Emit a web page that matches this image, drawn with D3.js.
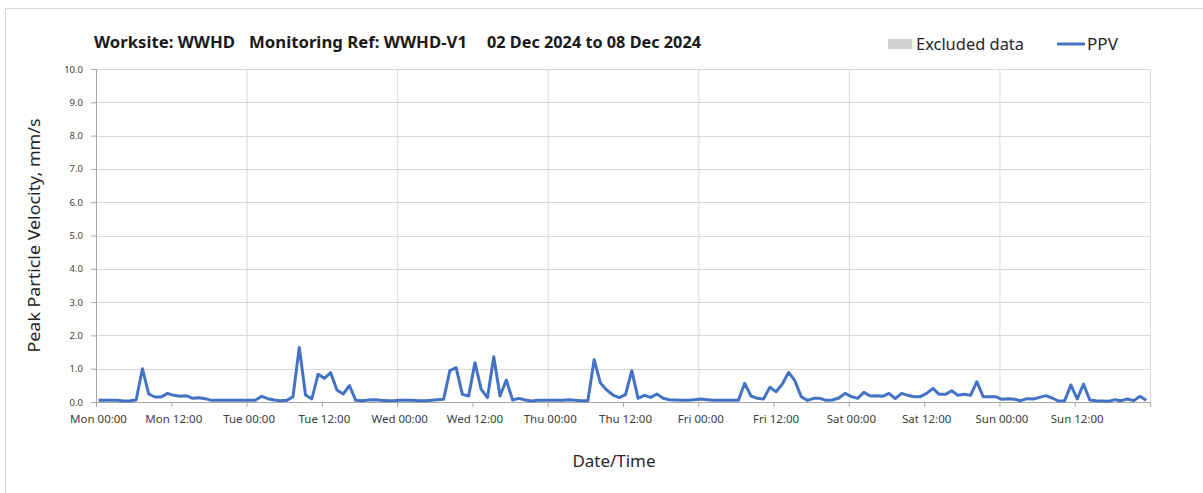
<!DOCTYPE html>
<html>
<head>
<meta charset="utf-8">
<script src="https://cdn.jsdelivr.net/npm/d3@7"></script>
<style>
  body { margin: 0; background: #fff; }
  svg { display: block; font-family: "Noto Sans", sans-serif; }
</style>
</head>
<body>
<svg id="chart" width="1203" height="493"></svg>
<script>
// hourly PPV readings, Mon 02 Dec 2024 to Sun 08 Dec 2024
const startTime = '2024-12-02T00:24:00Z'
const ppv = [
  0.05,0.05,0.05,0.05,0.03,0.04,0.06,1.00,0.24,0.15,0.15,0.26,0.20,0.17,0.19,0.11,0.13,0.10,0.05,0.05,0.05,0.05,0.05,0.05,
  0.05,0.05,0.17,0.10,0.06,0.04,0.05,0.16,1.64,0.21,0.09,0.83,0.71,0.88,0.36,0.24,0.49,0.05,0.04,0.06,0.07,0.05,0.04,0.04,
  0.05,0.05,0.05,0.04,0.04,0.05,0.07,0.08,0.94,1.03,0.23,0.18,1.18,0.38,0.13,1.36,0.18,0.66,0.06,0.11,0.06,0.03,0.05,0.05,
  0.05,0.05,0.05,0.07,0.05,0.04,0.04,1.27,0.57,0.36,0.21,0.13,0.22,0.94,0.11,0.20,0.14,0.24,0.11,0.07,0.06,0.05,0.05,0.07,
  0.09,0.07,0.05,0.05,0.05,0.05,0.05,0.56,0.18,0.11,0.09,0.44,0.31,0.54,0.89,0.64,0.16,0.05,0.11,0.11,0.05,0.06,0.12,0.26,
  0.16,0.11,0.29,0.18,0.19,0.17,0.26,0.10,0.26,0.20,0.16,0.16,0.26,0.41,0.23,0.23,0.34,0.20,0.23,0.20,0.61,0.16,0.16,0.16,
  0.08,0.10,0.08,0.04,0.10,0.09,0.14,0.19,0.12,0.03,0.04,0.51,0.09,0.54,0.06,0.04,0.03,0.02,0.07,0.04,0.09,0.04,0.17,0.05
]
const xTickLabels = ['Mon 00:00','Mon 12:00','Tue 00:00','Tue 12:00','Wed 00:00','Wed 12:00','Thu 00:00',
  'Thu 12:00','Fri 00:00','Fri 12:00','Sat 00:00','Sat 12:00','Sun 00:00','Sun 12:00']
const yTicks = [0,1,2,3,4,5,6,7,8,9,10]
const titleParts = ['Worksite: WWHD', 'Monitoring Ref: WWHD-V1', '02 Dec 2024 to 08 Dec 2024']
const legendItems = ['Excluded data', 'PPV']

const margin = {top: 69, right: 53, bottom: 91, left: 96}
const width = 1203 - margin.left - margin.right
const height = 493 - margin.top - margin.bottom

const svg = d3.select('#chart')

// outer frame
svg.append('rect')
  .attr('x', 5.5).attr('y', 8.5)
  .attr('width', 1210).attr('height', 490)
  .attr('fill', 'none').attr('stroke', '#d9d9d9')

const t0 = new Date('2024-12-02T00:00:00Z')
const t1 = new Date('2024-12-09T00:00:00Z')
const start = new Date(startTime)
const data = ppv.map((v, i) => ({t: d3.utcHour.offset(start, i), v: v}))

const x = d3.scaleUtc().domain([t0, t1]).range([0, width])
const y = d3.scaleLinear().domain([0, 10]).range([height, 0])

const g = svg.append('g').attr('transform', `translate(${margin.left},${margin.top})`)

// grid
const dayTicks = d3.utcDay.range(t0, d3.utcDay.offset(t1, 1))
g.append('g').selectAll('line.vg')
  .data(dayTicks)
  .join('line')
  .attr('x1', d => x(d) + 0.5).attr('x2', d => x(d) + 0.5)
  .attr('y1', 0).attr('y2', height)
  .attr('stroke', '#d9d9d9')
g.append('g').selectAll('line.hg')
  .data(yTicks.slice(1))
  .join('line')
  .attr('x1', 0).attr('x2', width)
  .attr('y1', d => Math.round(y(d)) + 0.5).attr('y2', d => Math.round(y(d)) + 0.5)
  .attr('stroke', '#d9d9d9')

// axes
const halfDays = d3.utcHour.every(12).range(t0, d3.utcHour.offset(t1, 1))
const xAxis = d3.axisBottom(x)
  .tickValues(halfDays)
  .tickSize(5)
  .tickFormat((d, i) => xTickLabels[i] || '')
const yAxis = d3.axisLeft(y)
  .tickValues(yTicks)
  .tickSize(5)
  .tickFormat(d3.format('.1f'))

const gx = g.append('g')
  .attr('transform', `translate(0,${height})`)
  .call(xAxis)
gx.select('.domain').attr('stroke', '#a6a6a6')
gx.selectAll('.tick line').attr('stroke', '#a6a6a6')
gx.selectAll('.tick text')
  .attr('font-family', '"Noto Sans", sans-serif')
  .attr('font-size', 11.5).attr('fill', '#404040')
  .attr('dy', '1.1em').attr('dx', 2)

const gy = g.append('g').call(yAxis)
gy.select('.domain').attr('stroke', '#a6a6a6')
gy.selectAll('.tick line').attr('stroke', '#a6a6a6')
gy.selectAll('.tick text')
  .attr('font-family', '"Noto Sans", sans-serif')
  .attr('font-size', 9.5).attr('fill', '#404040')
  .attr('x', -13)

// PPV line
const line = d3.line()
  .x(d => x(d.t))
  .y(d => y(d.v))
g.append('path')
  .datum(data)
  .attr('fill', 'none')
  .attr('stroke', '#4472c4')
  .attr('stroke-width', 3)
  .attr('stroke-linejoin', 'round')
  .attr('d', line)

// title
const titleX = [94, 249, 487]
const titleW = [141, 218, 214]
svg.append('g').selectAll('text')
  .data(titleParts)
  .join('text')
  .attr('x', (d, i) => titleX[i])
  .attr('y', 48)
  .attr('font-size', 15.5)
  .attr('font-weight', 'bold')
  .attr('fill', '#1a1a1a')
  .attr('textLength', (d, i) => titleW[i])
  .attr('lengthAdjust', 'spacingAndGlyphs')
  .text(d => d)

// legend
svg.append('rect')
  .attr('x', 888).attr('y', 39).attr('width', 24).attr('height', 10)
  .attr('fill', '#d0d0d0')
svg.append('text')
  .attr('x', 916).attr('y', 50)
  .attr('font-size', 15.5).attr('fill', '#262626')
  .attr('textLength', 108).attr('lengthAdjust', 'spacingAndGlyphs')
  .text(legendItems[0])
svg.append('line')
  .attr('x1', 1057).attr('x2', 1085).attr('y1', 44).attr('y2', 44)
  .attr('stroke', '#4472c4').attr('stroke-width', 3)
svg.append('text')
  .attr('x', 1087).attr('y', 50)
  .attr('font-size', 15.5).attr('fill', '#262626')
  .attr('textLength', 31).attr('lengthAdjust', 'spacingAndGlyphs')
  .text(legendItems[1])

// axis titles
svg.append('text')
  .attr('transform', `translate(40,${margin.top + height / 2}) rotate(-90)`)
  .attr('text-anchor', 'middle')
  .attr('font-size', 15.5).attr('fill', '#262626')
  .attr('textLength', 234).attr('lengthAdjust', 'spacingAndGlyphs')
  .text('Peak Particle Velocity, mm/s')
svg.append('text')
  .attr('x', 614).attr('y', 467)
  .attr('text-anchor', 'middle')
  .attr('font-size', 16).attr('fill', '#262626')
  .attr('textLength', 83).attr('lengthAdjust', 'spacingAndGlyphs')
  .text('Date/Time')
</script>
</body>
</html>
